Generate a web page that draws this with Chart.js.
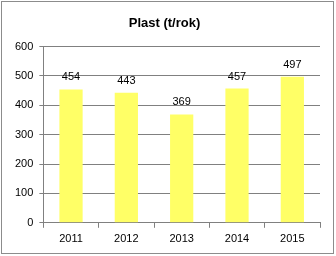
<!DOCTYPE html>
<html>
<head>
<meta charset="utf-8">
<script src="https://cdn.jsdelivr.net/npm/chart.js@4"></script>
<style>
  body { margin: 0; background: #fff; }
  #wrap { position: relative; width: 336px; height: 256px; }
  #frame { position: absolute; left: 1px; top: 1px; width: 331px; height: 251px; border: 1px solid #8c8c8c; pointer-events: none; }
</style>
</head>
<body>
<div id="wrap">
  <canvas id="plastChart" width="336" height="256"></canvas>
  <div id="frame"></div>
</div>
<script>
// Data
const years = ['2011', '2012', '2013', '2014', '2015'];
const plast = [454, 443, 369, 457, 497];
const yTicks = [0, 100, 200, 300, 400, 500, 600];

// Value labels above bars
const barLabels = {
    id: 'barLabels',
    afterDatasetsDraw(chart) {
        const ctx = chart.ctx;
        const meta = chart.getDatasetMeta(0);
        ctx.save();
        ctx.font = '11px Arial, "Liberation Sans", sans-serif';
        ctx.fillStyle = '#000';
        ctx.textAlign = 'center';
        ctx.textBaseline = 'alphabetic';
        meta.data.forEach((bar, i) => {
            ctx.fillText(String(plast[i]), bar.x, bar.y - 9);
        });
        ctx.restore();
    }
};

const ctx = document.getElementById('plastChart');
new Chart(ctx, {
    type: 'bar',
    data: {
        labels: years,
        datasets: [{
            data: plast,
            backgroundColor: '#ffff66',
            borderWidth: 0,
            categoryPercentage: 1,
            barPercentage: 0.42
        }]
    },
    options: {
        responsive: false,
        animation: false,
        layout: { padding: { left: 9, right: 16, top: 4, bottom: 5 } },
        plugins: {
            legend: { display: false },
            tooltip: { enabled: false },
            title: {
                display: true,
                text: 'Plast (t/rok)',
                color: '#000',
                font: { family: 'Arial, "Liberation Sans", sans-serif', size: 13, weight: 'bold' },
                padding: { top: 12, bottom: 15 }
            }
        },
        scales: {
            x: {
                grid: {
                    offset: true,
                    drawOnChartArea: false,
                    drawTicks: true,
                    tickLength: 5,
                    color: '#808080'
                },
                border: { color: '#808080' },
                ticks: {
                    color: '#000',
                    padding: 5,
                    font: { family: 'Arial, "Liberation Sans", sans-serif', size: 11 }
                }
            },
            y: {
                min: 0,
                max: 600,
                afterBuildTicks: (axis) => { axis.ticks = yTicks.map(v => ({ value: v })); },
                grid: {
                    color: '#808080',
                    tickLength: 4
                },
                border: { color: '#808080' },
                ticks: {
                    color: '#000',
                    padding: 6,
                    font: { family: 'Arial, "Liberation Sans", sans-serif', size: 11 }
                }
            }
        }
    },
    plugins: [barLabels]
});
</script>
</body>
</html>
